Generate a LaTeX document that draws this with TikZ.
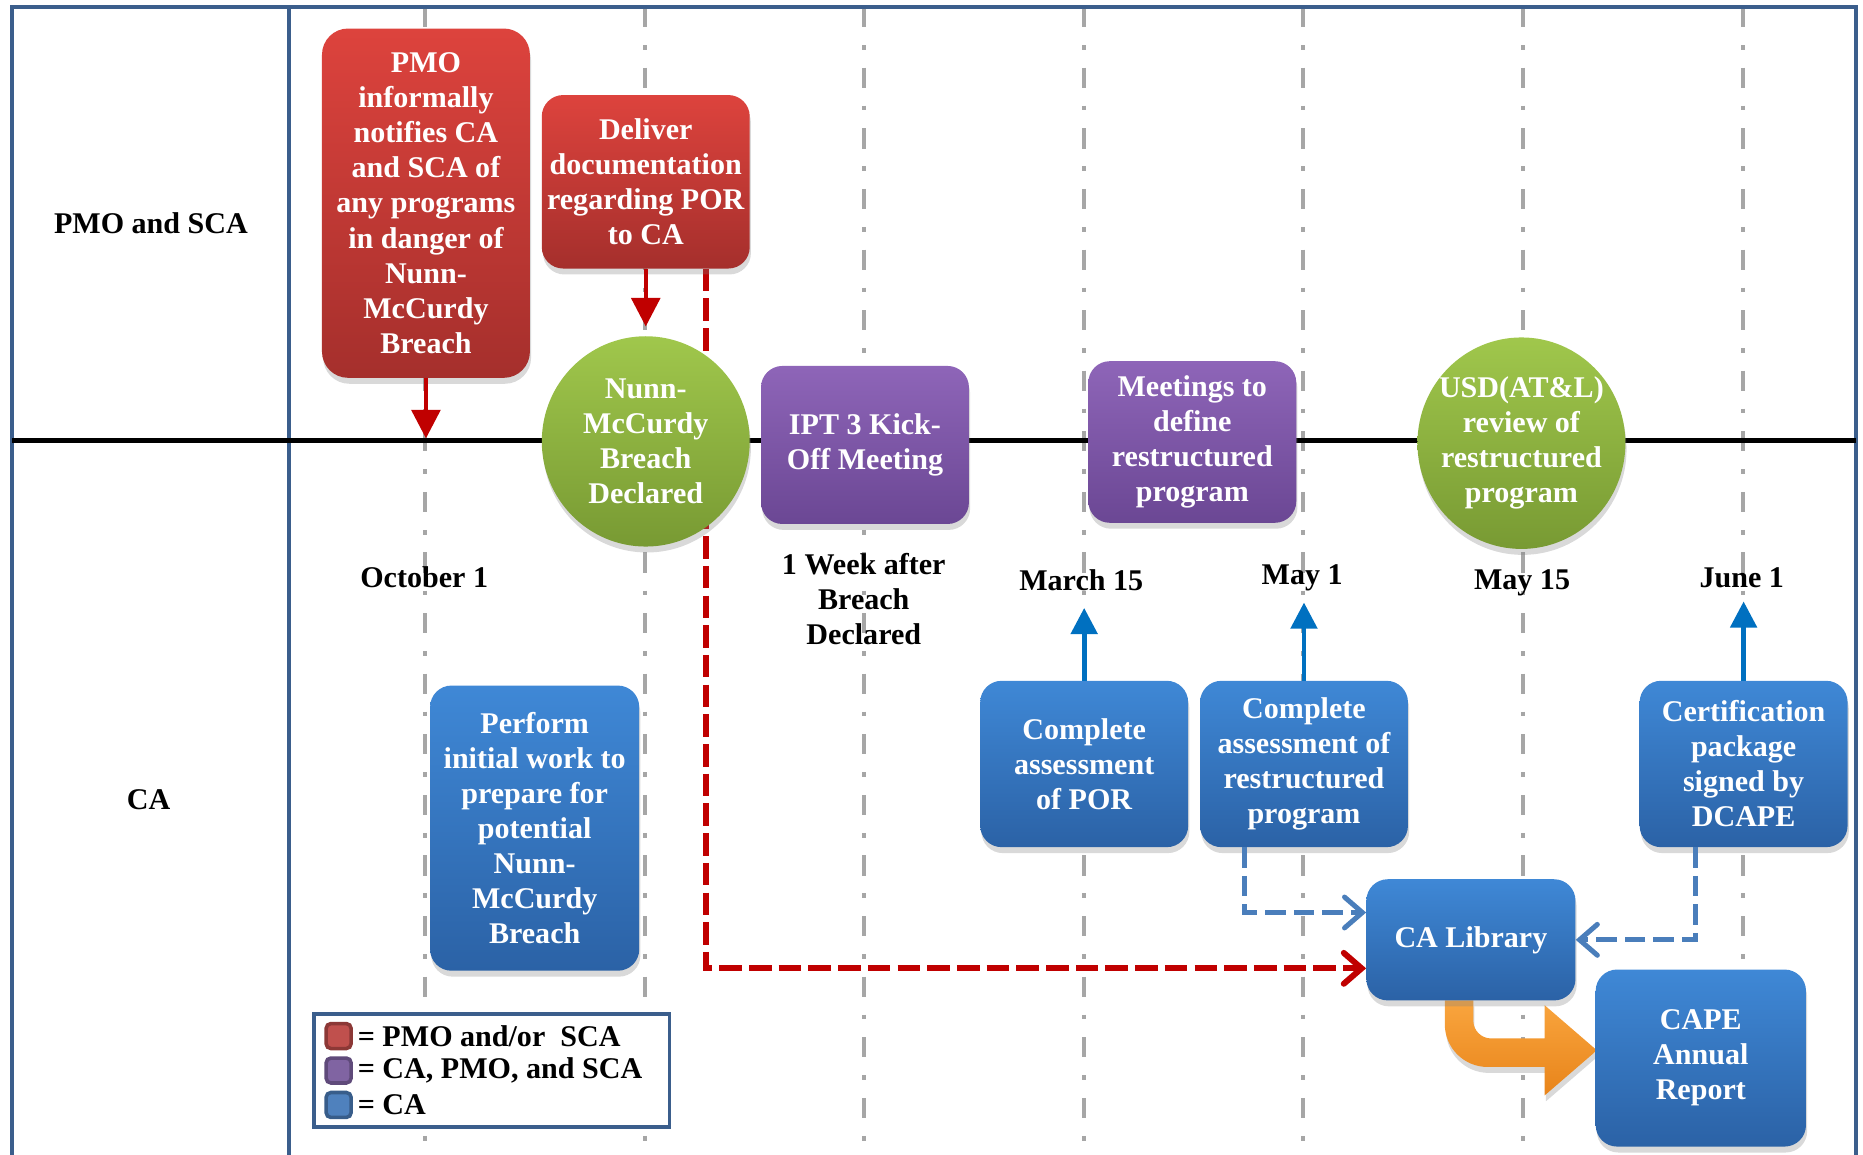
\documentclass[tikz,border=0pt]{standalone}
\usepackage{fontspec}
\setmainfont{Liberation Serif}
\usetikzlibrary{shapes.geometric,arrows.meta,shadows,positioning}

\definecolor{laneblue}{HTML}{3B5E8C}
\definecolor{gridgray}{HTML}{A6A6A6}
\definecolor{redtop}{HTML}{DD433D}
\definecolor{redbot}{HTML}{A52F2C}
\definecolor{purpletop}{HTML}{8E65B8}
\definecolor{purplebot}{HTML}{6B4794}
\definecolor{greentop}{HTML}{A0C74C}
\definecolor{greenbot}{HTML}{789A33}
\definecolor{bluetop}{HTML}{3F88D6}
\definecolor{bluebot}{HTML}{2B62A6}
\definecolor{orangetop}{HTML}{F9A53E}
\definecolor{orangebot}{HTML}{E8841A}
\definecolor{arrowred}{HTML}{C00000}
\definecolor{arrowblue}{HTML}{0070C0}
\definecolor{dashblue}{HTML}{4A7EBB}
\definecolor{legred}{HTML}{C0504D}
\definecolor{legredline}{HTML}{8C3836}
\definecolor{legpurple}{HTML}{8064A2}
\definecolor{legpurpleline}{HTML}{5F4A7A}
\definecolor{legblue}{HTML}{4F81BD}
\definecolor{legblueline}{HTML}{385D8A}

\pgfdeclarelayer{bg}
\pgfsetlayers{bg,main}

\tikzset{
  lanelabel/.style={inner sep=0pt},
  datelabel/.style={inner sep=0pt, align=center},
  softshadow/.style={drop shadow={opacity=0.3, shadow xshift=1pt, shadow yshift=-5pt}},
  stepbox/.style={rectangle, rounded corners=18pt, minimum width=175pt, inner sep=0pt,
    align=center, text=white, softshadow},
  redbox/.style={stepbox, top color=redtop, bottom color=redbot},
  purplebox/.style={stepbox, top color=purpletop, bottom color=purplebot},
  bluebox/.style={stepbox, top color=bluetop, bottom color=bluebot},
  greenoval/.style={ellipse, minimum width=175pt, minimum height=177pt, inner sep=0pt,
    top color=greentop, bottom color=greenbot, softshadow},
  ovaltext/.style={inner sep=0pt, align=center, text=white},
  gridline/.style={gridgray, line width=3.5pt, dash pattern=on 17pt off 15pt on 4pt off 15pt},
  laneline/.style={laneblue, line width=3pt},
  redarrow/.style={arrowred, line width=3.5pt, -{Triangle[length=24pt,width=24pt]}},
  bluearrow/.style={arrowblue, line width=4pt, -{Triangle[length=22pt,width=22pt]}},
  reddash/.style={arrowred, line width=5pt, dash pattern=on 19pt off 6pt,
    -{Straight Barb[length=15pt,width=26pt,line cap=round]}},
  bluedash/.style={dashblue, line width=4.2pt, dash pattern=on 17pt off 7pt,
    -{Straight Barb[length=15pt,width=26pt,line cap=round]}},
  legkey/.style={rectangle, rounded corners=4pt, line width=3pt, minimum size=21pt, inner sep=0pt},
  legtext/.style={inner sep=0pt, anchor=west},
  legframe/.style={draw=laneblue, line width=3pt, fill=white, inner sep=0pt}
}

\begin{document}
\begin{tikzpicture}[x=1pt,y=-1pt,font=\fontsize{25.3}{29.5}\selectfont\bfseries]
\useasboundingbox (0,0) rectangle (1568,972);

% swim lanes and time grid
\begin{pgfonlayer}{bg}
  \foreach \x in {358,543,727,912,1097,1282,1467}
    \draw[gridline] (\x,6) -- (\x,972);
  \draw[laneline] (10,972) -- (10,6) -- (1562,6) -- (1562,972);
  \draw[laneline] (243,6) -- (243,972);
  \draw[line width=4.5pt] (10,371) -- (1562,371);
  % bent arrow into the annual report
  \path[top color=orangetop, bottom color=orangebot, softshadow]
    (1216,842) -- (1216,862) arc[start angle=180, end angle=90, radius=36]
    -- (1300,898) -- (1300,922) -- (1344,884) -- (1300,846) -- (1300,874)
    -- (1255,874) arc[start angle=90, end angle=180, radius=15] -- (1240,842) -- cycle;
\end{pgfonlayer}

\node[lanelabel] (pmolane) at (127,188) {PMO and SCA};
\node[lanelabel] (calane) at (125,673) {CA};

% PMO and SCA lane
\node[redbox, minimum height=294pt, rounded corners=22pt] (notify) at (358.5,171)
  {PMO\\informally\\notifies CA\\and SCA of\\any programs\\in danger of\\Nunn-\\McCurdy\\Breach};
\node[redbox, minimum height=146pt] (deliver) at (543.5,153)
  {Deliver\\documentation\\regarding POR\\to CA};

% timeline
\node[greenoval] (breach) at (543.5,371.5) {};
\node[ovaltext] (breachtext) at (breach) {Nunn-\\McCurdy\\Breach\\Declared};
\node[purplebox, minimum height=133pt] (kickoff) at (728,374.5) {IPT 3 Kick-\\Off Meeting};
\node[purplebox, minimum height=136pt] (meetings) at (1003.5,372)
  {Meetings to\\define\\restructured\\program};
\node[greenoval, minimum height=178pt] (review) at (1280.5,373) {};
\node[ovaltext] (reviewtext) at (review) {USD(AT\&L)\\review of\\restructured\\program};

\foreach \n/\x/\y/\t in {oct1/357/486/{October 1},
                         week/727/504/{1 Week after\\Breach\\Declared},
                         mar15/910/488/{March 15}, may1/1096/486.5/{May 1},
                         may15/1281/490.5/{May 15}, jun1/1466/486/{June 1}}
  \node[datelabel] (\n) at (\x,\y) {\t};

% CA lane
\node[bluebox, minimum width=176pt, minimum height=240pt] (prepare) at (450,697)
  {Perform\\initial work to\\prepare for\\potential\\Nunn-\\McCurdy\\Breach};
\node[bluebox, minimum height=140pt] (assesspor) at (912.5,643) {Complete\\assessment\\of POR};
\node[bluebox, minimum height=140pt] (assessrestr) at (1097.5,643)
  {Complete\\assessment of\\restructured\\program};
\node[bluebox, minimum height=140pt] (certify) at (1467.5,643)
  {Certification\\package\\signed by\\DCAPE};
\node[bluebox, minimum width=176pt, minimum height=102pt] (library) at (1238,791) {CA Library};
\node[bluebox, minimum width=177pt, minimum height=149pt] (report) at (1431.5,890.5)
  {CAPE\\Annual\\Report};

% connectors
\coordinate (octtick) at (358.5,369);
\draw[redarrow] (notify.south) -- (octtick);
\draw[redarrow, shorten >=8pt] (deliver.south) -- (breach.north);
\draw[bluearrow, shorten >=15pt] (assesspor.north) -- (assesspor.north |- mar15.base);
\draw[bluearrow, shorten >=15pt] (assessrestr.north) -- (assessrestr.north |- may1.base);
\draw[bluearrow, shorten >=12pt] (certify.north) -- (certify.north |- jun1.base);
\draw[bluedash] ([xshift=38pt]assessrestr.south west) |- ([yshift=23pt]library.west);
\draw[bluedash] ([xshift=47pt]certify.south west) |- (library.east);
\begin{pgfonlayer}{bg}
  \draw[reddash] ([xshift=-37pt]deliver.south east) |- ([yshift=-24pt]library.west);
\end{pgfonlayer}

% legend
\node[legframe, minimum width=299pt, minimum height=95pt] (legend) at (414,901) {};
\node[legkey, fill=legred, draw=legredline] (keyred) at (285,872) {};
\node[legtext, right=4pt of keyred] (txtred) {= PMO and/or~ SCA};
\node[legkey, fill=legpurple, draw=legpurpleline] (keypurple) at (285,901) {};
\node[legtext, right=4pt of keypurple] (txtpurple) {= CA, PMO, and SCA};
\node[legkey, fill=legblue, draw=legblueline] (keyblue) at (285,930) {};
\node[legtext, right=4pt of keyblue] (txtblue) {= CA};
\end{tikzpicture}
\end{document}
